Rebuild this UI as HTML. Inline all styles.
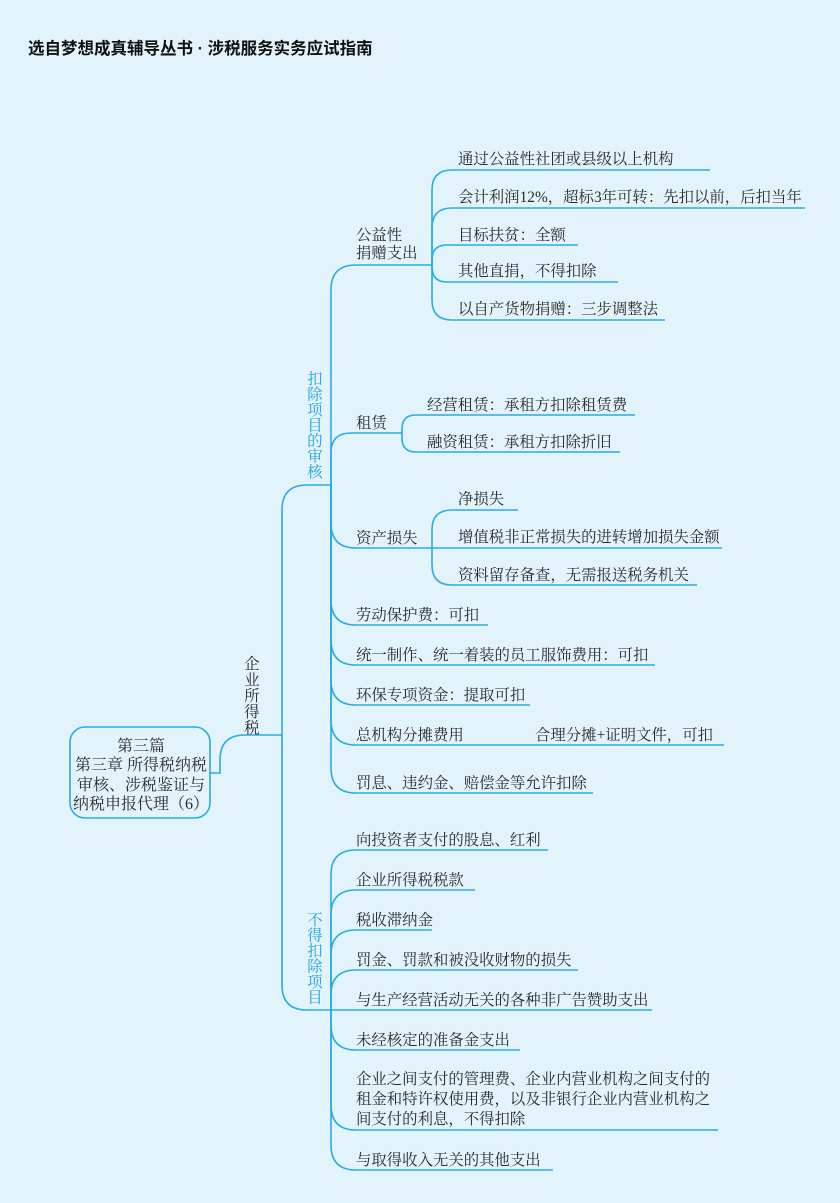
<!DOCTYPE html>
<html><head><meta charset="utf-8"><style>
html,body{margin:0;padding:0;background:#e3f3fc;}
svg{display:block}
text{font-family:"Liberation Serif","Noto Serif CJK SC",serif;font-size:15.4px;fill:#2a2a2a}
.b{fill:#1ea2dc}
</style></head><body>
<svg width="840" height="1203" viewBox="0 0 840 1203" xmlns="http://www.w3.org/2000/svg">
<rect width="840" height="1203" fill="#e3f3fc"/>
<text x="28" y="54" style="font-family:'Liberation Sans','Noto Sans CJK SC',sans-serif;font-weight:bold;font-size:16.5px;fill:#111">选自梦想成真辅导丛书 · 涉税服务实务应试指南</text>
<g fill="none" stroke="#27ade6" stroke-width="1.6">
<rect x="70" y="727" width="140" height="91" rx="15"/>
<path d="M210 773 L220 773 L220 760 Q220 735 245 735 L282 735"/>
<path d="M282 735 L282 510 Q282 485 307 485 L331 485"/>
<path d="M282 735 L282 985 Q282 1010 307 1010 L331 1010"/>
<path d="M331 485 L331 290 Q331 265 356 265 L432 265"/>
<path d="M331 485 L331 453 Q331 433 351 433 L400 433"/>
<path d="M331 485 L331 523 Q331 548 356 548 L432 548"/>
<path d="M331 485 L331 600 Q331 625 356 625 L488 625"/>
<path d="M331 485 L331 640 Q331 665 356 665 L655 665"/>
<path d="M331 485 L331 680 Q331 705 356 705 L530 705"/>
<path d="M331 485 L331 720 Q331 745 356 745 L724 745"/>
<path d="M331 485 L331 768 Q331 793 356 793 L593 793"/>
<path d="M331 1010 L331 875 Q331 850 356 850 L548 850"/>
<path d="M331 1010 L331 915 Q331 890 356 890 L475 890"/>
<path d="M331 1010 L331 955 Q331 930 356 930 L432 930"/>
<path d="M331 1010 L331 995 Q331 970 356 970 L578 970"/>
<path d="M331 1010 L652 1010"/>
<path d="M331 1010 L331 1025 Q331 1050 356 1050 L520 1050"/>
<path d="M331 1010 L331 1105 Q331 1130 356 1130 L718 1130"/>
<path d="M331 1010 L331 1145 Q331 1170 356 1170 L553 1170"/>
<path d="M432 265 L432 190 Q432 170 452 170 L710 170"/>
<path d="M432 265 L432 228 Q432 208 452 208 L805 208"/>
<path d="M432 265 L432 260 Q432 245 447 245 L578 245"/>
<path d="M432 265 L432 267 Q432 282 447 282 L618 282"/>
<path d="M432 265 L432 300 Q432 320 452 320 L665 320"/>
<path d="M400 433 L402 433 L402 429 Q402 415 416 415 L635 415"/>
<path d="M402 433 L402 438 Q402 452 416 452 L620 452"/>
<path d="M432 548 L432 530 Q432 510 452 510 L518 510"/>
<path d="M432 548 L722 548"/>
<path d="M432 548 L432 565 Q432 585 452 585 L697 585"/>
</g>
<g text-anchor="middle" style="font-size:16px">
<text x="141" y="751" style="font-size:16px">第三篇</text>
<text x="141" y="770" style="font-size:16px">第三章  所得税纳税</text>
<text x="141" y="790" style="font-size:16px">审核、涉税鉴证与</text>
<text x="141" y="809" style="font-size:16px">纳税申报代理（6）</text>
</g>
<g text-anchor="middle">
<text x="252" y="669">企</text><text x="252" y="685">业</text><text x="252" y="701">所</text><text x="252" y="717">得</text><text x="252" y="733">税</text>
</g>
<g text-anchor="middle">
<text class="b" x="315" y="384">扣</text><text class="b" x="315" y="399.5">除</text><text class="b" x="315" y="415">项</text><text class="b" x="315" y="430.5">目</text><text class="b" x="315" y="446">的</text><text class="b" x="315" y="461.5">审</text><text class="b" x="315" y="477">核</text>
<text class="b" x="315" y="925">不</text><text class="b" x="315" y="940.5">得</text><text class="b" x="315" y="956">扣</text><text class="b" x="315" y="971.5">除</text><text class="b" x="315" y="987">项</text><text class="b" x="315" y="1002.5">目</text>
</g>
<g>
<text x="356" y="240">公益性</text>
<text x="356" y="258">捐赠支出</text>
<text x="356" y="428">租赁</text>
<text x="356" y="543">资产损失</text>
<text x="356" y="620">劳动保护费：可扣</text>
<text x="356" y="660">统一制作、统一着装的员工服饰费用：可扣</text>
<text x="356" y="700">环保专项资金：提取可扣</text>
<text x="356" y="740">总机构分摊费用</text>
<text x="535" y="740">合理分摊+证明文件，可扣</text>
<text x="356" y="788">罚息、违约金、赔偿金等允许扣除</text>
<text x="458" y="164">通过公益性社团或县级以上机构</text>
<text x="458" y="202">会计利润12%，超标3年可转：先扣以前，后扣当年</text>
<text x="458" y="240">目标扶贫：全额</text>
<text x="458" y="276">其他直捐，不得扣除</text>
<text x="458" y="314">以自产货物捐赠：三步调整法</text>
<text x="427" y="410">经营租赁：承租方扣除租赁费</text>
<text x="427" y="447">融资租赁：承租方扣除折旧</text>
<text x="458" y="504">净损失</text>
<text x="458" y="542">增值税非正常损失的进转增加损失金额</text>
<text x="458" y="580">资料留存备查，无需报送税务机关</text>
<text x="356" y="845">向投资者支付的股息、红利</text>
<text x="356" y="885">企业所得税税款</text>
<text x="356" y="925">税收滞纳金</text>
<text x="356" y="965">罚金、罚款和被没收财物的损失</text>
<text x="356" y="1005">与生产经营活动无关的各种非广告赞助支出</text>
<text x="356" y="1045">未经核定的准备金支出</text>
<text x="356" y="1084">企业之间支付的管理费、企业内营业机构之间支付的</text>
<text x="356" y="1104">租金和特许权使用费，以及非银行企业内营业机构之</text>
<text x="356" y="1124">间支付的利息，不得扣除</text>
<text x="356" y="1165">与取得收入无关的其他支出</text>
</g>
</svg>
</body></html>
